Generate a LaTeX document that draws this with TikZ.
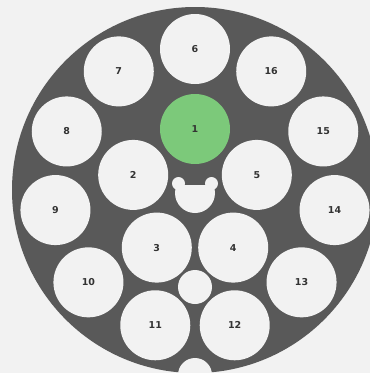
\documentclass[tikz,border=0pt]{standalone}
\usepackage{fontspec}
\setmainfont{DejaVu Sans}
\definecolor{bgc}{HTML}{F2F2F2}
\definecolor{darkc}{HTML}{595959}
\definecolor{greenc}{HTML}{7CC97A}
\definecolor{txtc}{HTML}{333333}
\tikzset{
  hole/.style={circle, fill=bgc, minimum size=70pt, inner sep=0pt, text=txtc, font=\bfseries\fontsize{9.5}{9.5}\selectfont},
  greenhole/.style={hole, fill=greenc},
  smallhole/.style={circle, fill=bgc, minimum size=34pt, inner sep=0pt}
}
\begin{document}
\begin{tikzpicture}[x=1pt,y=-1pt]
\useasboundingbox (0,0) rectangle (370,373);
\clip (0,0) rectangle (370,373);
\fill[bgc] (0,0) rectangle (370,373);
\fill[darkc] (195,190) circle[radius=183];
% inner ring
\node[greenhole] (c1) at ({195+65*cos(90)},{194-65*sin(90)}) {1};
\node[hole] (c2) at ({195+65*cos(162)},{195-65*sin(162)}) {2};
\node[hole] (c3) at ({195+65*cos(234)},{195-65*sin(234)}) {3};
\node[hole] (c4) at ({195+65*cos(306)},{195-65*sin(306)}) {4};
\node[hole] (c5) at ({195+65*cos(18)},{195-65*sin(18)}) {5};
% outer ring
\foreach \k/\n in {0/6,1/7,2/8,3/9,4/10,5/11,6/12,7/13,8/14,9/15,10/16}{
  \node[hole] (c\n) at ({195+141*cos(90+\k*32.727)},{190-141*sin(90+\k*32.727)}) {\n};
}
% small holes
\node[smallhole] (s1) at (195,287) {};
\node[smallhole] (s2) at (195,375) {};
% key-shaped hole
\begin{scope}
  \clip (150,185) rectangle (240,230);
  \fill[bgc] (195,193) circle[radius=20];
\end{scope}
\fill[bgc] (178.5,183.5) circle[radius=6.5];
\fill[bgc] (211.5,183.5) circle[radius=6.5];
\end{tikzpicture}
\end{document}
